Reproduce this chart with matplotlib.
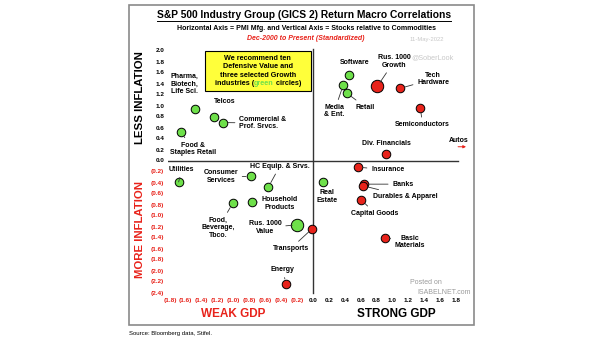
import matplotlib
matplotlib.use('Agg')
import matplotlib.pyplot as plt
from matplotlib.patches import Rectangle

plt.rcParams['font.family'] = ['Liberation Sans', 'DejaVu Sans']
plt.rcParams['font.weight'] = 'bold'

RED = '#e8231b'
GREEN = '#6ee04a'

# industry groups, x = corr with PMI mfg, y = corr of stocks vs commodities
names = ['Pharma,\nBiotech,\nLife Sci.', 'Telcos', 'Commercial &\nProf. Srvcs.',
         'Food &\nStaples Retail', 'Software', 'Media\n& Ent.', 'Retail',
         'Rus. 1000\nGrowth', 'Tech\nHardware', 'Semiconductors', 'Div. Financials',
         'Insurance', 'Real\nEstate', 'Banks', 'Durables & Apparel', 'Capital Goods',
         'Transports', 'Basic\nMaterials', 'Utilities', 'Consumer\nServices',
         'HC Equip. & Srvs.', 'Household\nProducts', 'Food,\nBeverage,\nTbco.',
         'Rus. 1000\nValue', 'Energy']
pmi = [-1.49, -1.24, -1.13, -1.66, 0.45, 0.38, 0.43, 0.81, 1.09, 1.35, 0.92,
       0.56, 0.13, 0.64, 0.63, 0.61, -0.01, 0.90, -1.69, -0.78, -0.56, -0.77,
       -1.01, -0.20, -0.34]
infl = [0.93, 0.80, 0.69, 0.51, 1.55, 1.37, 1.22, 1.35, 1.31, 0.95, 0.12,
        -0.12, -0.39, -0.43, -0.46, -0.72, -1.24, -1.40, -0.39, -0.29, -0.48,
        -0.75, -0.78, -1.17, -2.24]
recommended = [True, True, True, True, True, True, True, False, False, False, False,
               False, True, False, False, False, False, False, True, True, True, True,
               True, True, False]
benchmark = ['Rus. 1000\nGrowth', 'Rus. 1000\nValue']
autos_y = 0.25

xticks = [-1.8, -1.6, -1.4, -1.2, -1.0, -0.8, -0.6, -0.4, -0.2, 0.0,
          0.2, 0.4, 0.6, 0.8, 1.0, 1.2, 1.4, 1.6, 1.8]
yticks = [-2.4, -2.2, -2.0, -1.8, -1.6, -1.4, -1.2, -1.0, -0.8, -0.6, -0.4, -0.2,
          0.0, 0.2, 0.4, 0.6, 0.8, 1.0, 1.2, 1.4, 1.6, 1.8, 2.0]

# label placement: (x, y, ha, leader line)
label_pos = {
    'Pharma,\nBiotech,\nLife Sci.': (-1.79, 1.39, 'left', False),
    'Telcos': (-1.11, 1.08, 'center', False),
    'Commercial &\nProf. Srvcs.': (-0.93, 0.68, 'left', True),
    'Food &\nStaples Retail': (-1.51, 0.21, 'center', True),
    'Software': (0.52, 1.79, 'center', False),
    'Media\n& Ent.': (0.14, 0.90, 'left', True),
    'Retail': (0.66, 0.97, 'center', True),
    'Rus. 1000\nGrowth': (1.02, 1.80, 'center', True),
    'Tech\nHardware': (1.51, 1.48, 'center', True),
    'Semiconductors': (1.38, 0.65, 'center', True),
    'Div. Financials': (0.92, 0.31, 'center', False),
    'Insurance': (0.73, -0.17, 'left', True),
    'Real\nEstate': (0.18, -0.65, 'center', False),
    'Banks': (1.13, -0.43, 'center', True),
    'Durables & Apparel': (1.16, -0.65, 'center', True),
    'Capital Goods': (0.78, -0.96, 'center', True),
    'Transports': (-0.28, -1.60, 'center', True),
    'Basic\nMaterials': (1.22, -1.48, 'center', True),
    'Utilities': (-1.65, -0.17, 'center', True),
    'Consumer\nServices': (-1.16, -0.29, 'center', True),
    'HC Equip. & Srvs.': (-0.42, -0.11, 'center', True),
    'Household\nProducts': (-0.42, -0.78, 'center', True),
    'Food,\nBeverage,\nTbco.': (-1.19, -1.22, 'center', True),
    'Rus. 1000\nValue': (-0.60, -1.22, 'center', True),
    'Energy': (-0.38, -1.99, 'center', True),
}

fig = plt.figure(figsize=(6.05, 3.41), dpi=100)
fig.patches.append(Rectangle((129 / 605, 1 - 325 / 341), 345 / 605, 320 / 341,
                             transform=fig.transFigure, fill=False,
                             edgecolor='#8a8a8a', lw=1.2))

ax = fig.add_axes([167.5 / 605, 1 - 295.25 / 341, 304.5 / 605, 250.25 / 341])
ax.set_xlim(-1.83, 2.0)
ax.set_ylim(-2.45, 2.1)
for s in ax.spines.values():
    s.set_visible(False)

ax.set_xticks(xticks)
ax.set_xticklabels([f'({abs(v):.1f})' if v < 0 else f'{v:.1f}' for v in xticks])
ax.set_yticks(yticks)
ax.set_yticklabels([f'({abs(v):.1f})' if v < 0 else f'{v:.1f}' for v in yticks])
ax.tick_params(length=0, labelsize=4.6, pad=2.3)
for lab, v in zip(ax.get_xticklabels(), xticks):
    lab.set_color(RED if v < 0 else 'black')
for lab, v in zip(ax.get_yticklabels(), yticks):
    lab.set_color(RED if v < 0 else 'black')

ax.plot([0, 0], [-2.4, 2.02], color='#333333', lw=1.0, zorder=1)
ax.plot([-1.82, 1.82], [0, 0], color='#333333', lw=1.0, zorder=1)

for n, x, y, rec in zip(names, pmi, infl, recommended):
    size = 80 if n in benchmark else 38
    ax.scatter(x, y, s=size, color=GREEN if rec else RED, edgecolor='black',
               linewidth=0.7, zorder=3)
    tx, ty, ha, line = label_pos[n]
    ax.annotate(n, xy=(x, y), xytext=(tx, ty), ha=ha, va='center', ma=ha,
                fontsize=5, linespacing=1.15,
                arrowprops=dict(arrowstyle='-', lw=0.6, color='#333333',
                                shrinkA=1, shrinkB=3.5) if line else None)

# Autos is off the chart
ax.annotate('', xy=(1.96, autos_y), xytext=(1.79, autos_y),
            arrowprops=dict(arrowstyle='-|>', color=RED, lw=0.7, mutation_scale=4))
ax.text(1.83, 0.36, 'Autos', fontsize=5, ha='center', va='center')

# recommendation box
ax.add_patch(Rectangle((-1.36, 1.27), 1.33, 0.73, facecolor='#ffff3a',
                       edgecolor='black', lw=0.8, zorder=2))
box_lines = ['We recommend ten', 'Defensive Value and', 'three selected Growth']
for i, t in enumerate(box_lines):
    ax.text(-0.695, 1.86 - i * 0.155, t, fontsize=5.2, ha='center', va='center', zorder=4)
fig.canvas.draw()
r = fig.canvas.get_renderer()
parts = [('industries (', 'black'), ('green', GREEN), (' circles)', 'black')]
objs = [ax.text(0, 1.395, p, fontsize=5.2, color=c, va='center', zorder=4)
        for p, c in parts]
widths = [o.get_window_extent(r).width for o in objs]
x0 = ax.transData.transform((-0.695, 0))[0] - sum(widths) / 2
for o, w in zip(objs, widths):
    o.set_x(ax.transData.inverted().transform((x0, 0))[0])
    x0 += w

# titles
title = fig.text(0.503, 1 - 15 / 341,
                 'S&P 500 Industry Group (GICS 2) Return Macro Correlations',
                 ha='center', va='center', fontsize=7.4)
bb = title.get_window_extent(r)
fig.add_artist(plt.Line2D([bb.x0 / 605, bb.x1 / 605], [1 - 20.5 / 341] * 2,
                          color='black', lw=0.7))
fig.text(0.507, 1 - 28 / 341,
         'Horizontal Axis = PMI Mfg. and Vertical Axis = Stocks relative to Commodities',
         ha='center', va='center', fontsize=5.0)
fig.text(0.506, 1 - 39 / 341, 'Dec-2000 to Present (Standardized)', ha='center',
         va='center', fontsize=5.0, color=RED, style='italic')
fig.text(427 / 605, 1 - 39 / 341, '11-May-2022', ha='center', va='center',
         fontsize=4.2, color='#c8c8c8', weight='normal')
fig.text(432 / 605, 1 - 58 / 341, '@SoberLook', ha='center', va='center',
         fontsize=5.2, color='#c8c8c8', weight='normal')

fig.text(140 / 605, 1 - 98 / 341, 'LESS INFLATION', rotation=90, ha='center',
         va='center', fontsize=8.2, color='black')
fig.text(140 / 605, 1 - 229 / 341, 'MORE INFLATION', rotation=90, ha='center',
         va='center', fontsize=8.2, color=RED)
fig.text(233 / 605, 1 - 314 / 341, 'WEAK GDP', ha='center', va='center',
         fontsize=8.5, color=RED)
fig.text(396 / 605, 1 - 314 / 341, 'STRONG GDP', ha='center', va='center',
         fontsize=8.5, color='black')

fig.text(426 / 605, 1 - 283 / 341, 'Posted on', ha='center', va='center',
         fontsize=5, color='#9a9a9a', weight='normal')
fig.text(444 / 605, 1 - 293 / 341, 'ISABELNET.com', ha='center', va='center',
         fontsize=5, color='#9a9a9a', weight='normal')

fig.text(129 / 605, 1 - 333 / 341, 'Source: Bloomberg data, Stifel.', ha='left',
         va='center', fontsize=4.3, weight='normal')

fig.savefig('out.png', dpi=100, facecolor='white')
